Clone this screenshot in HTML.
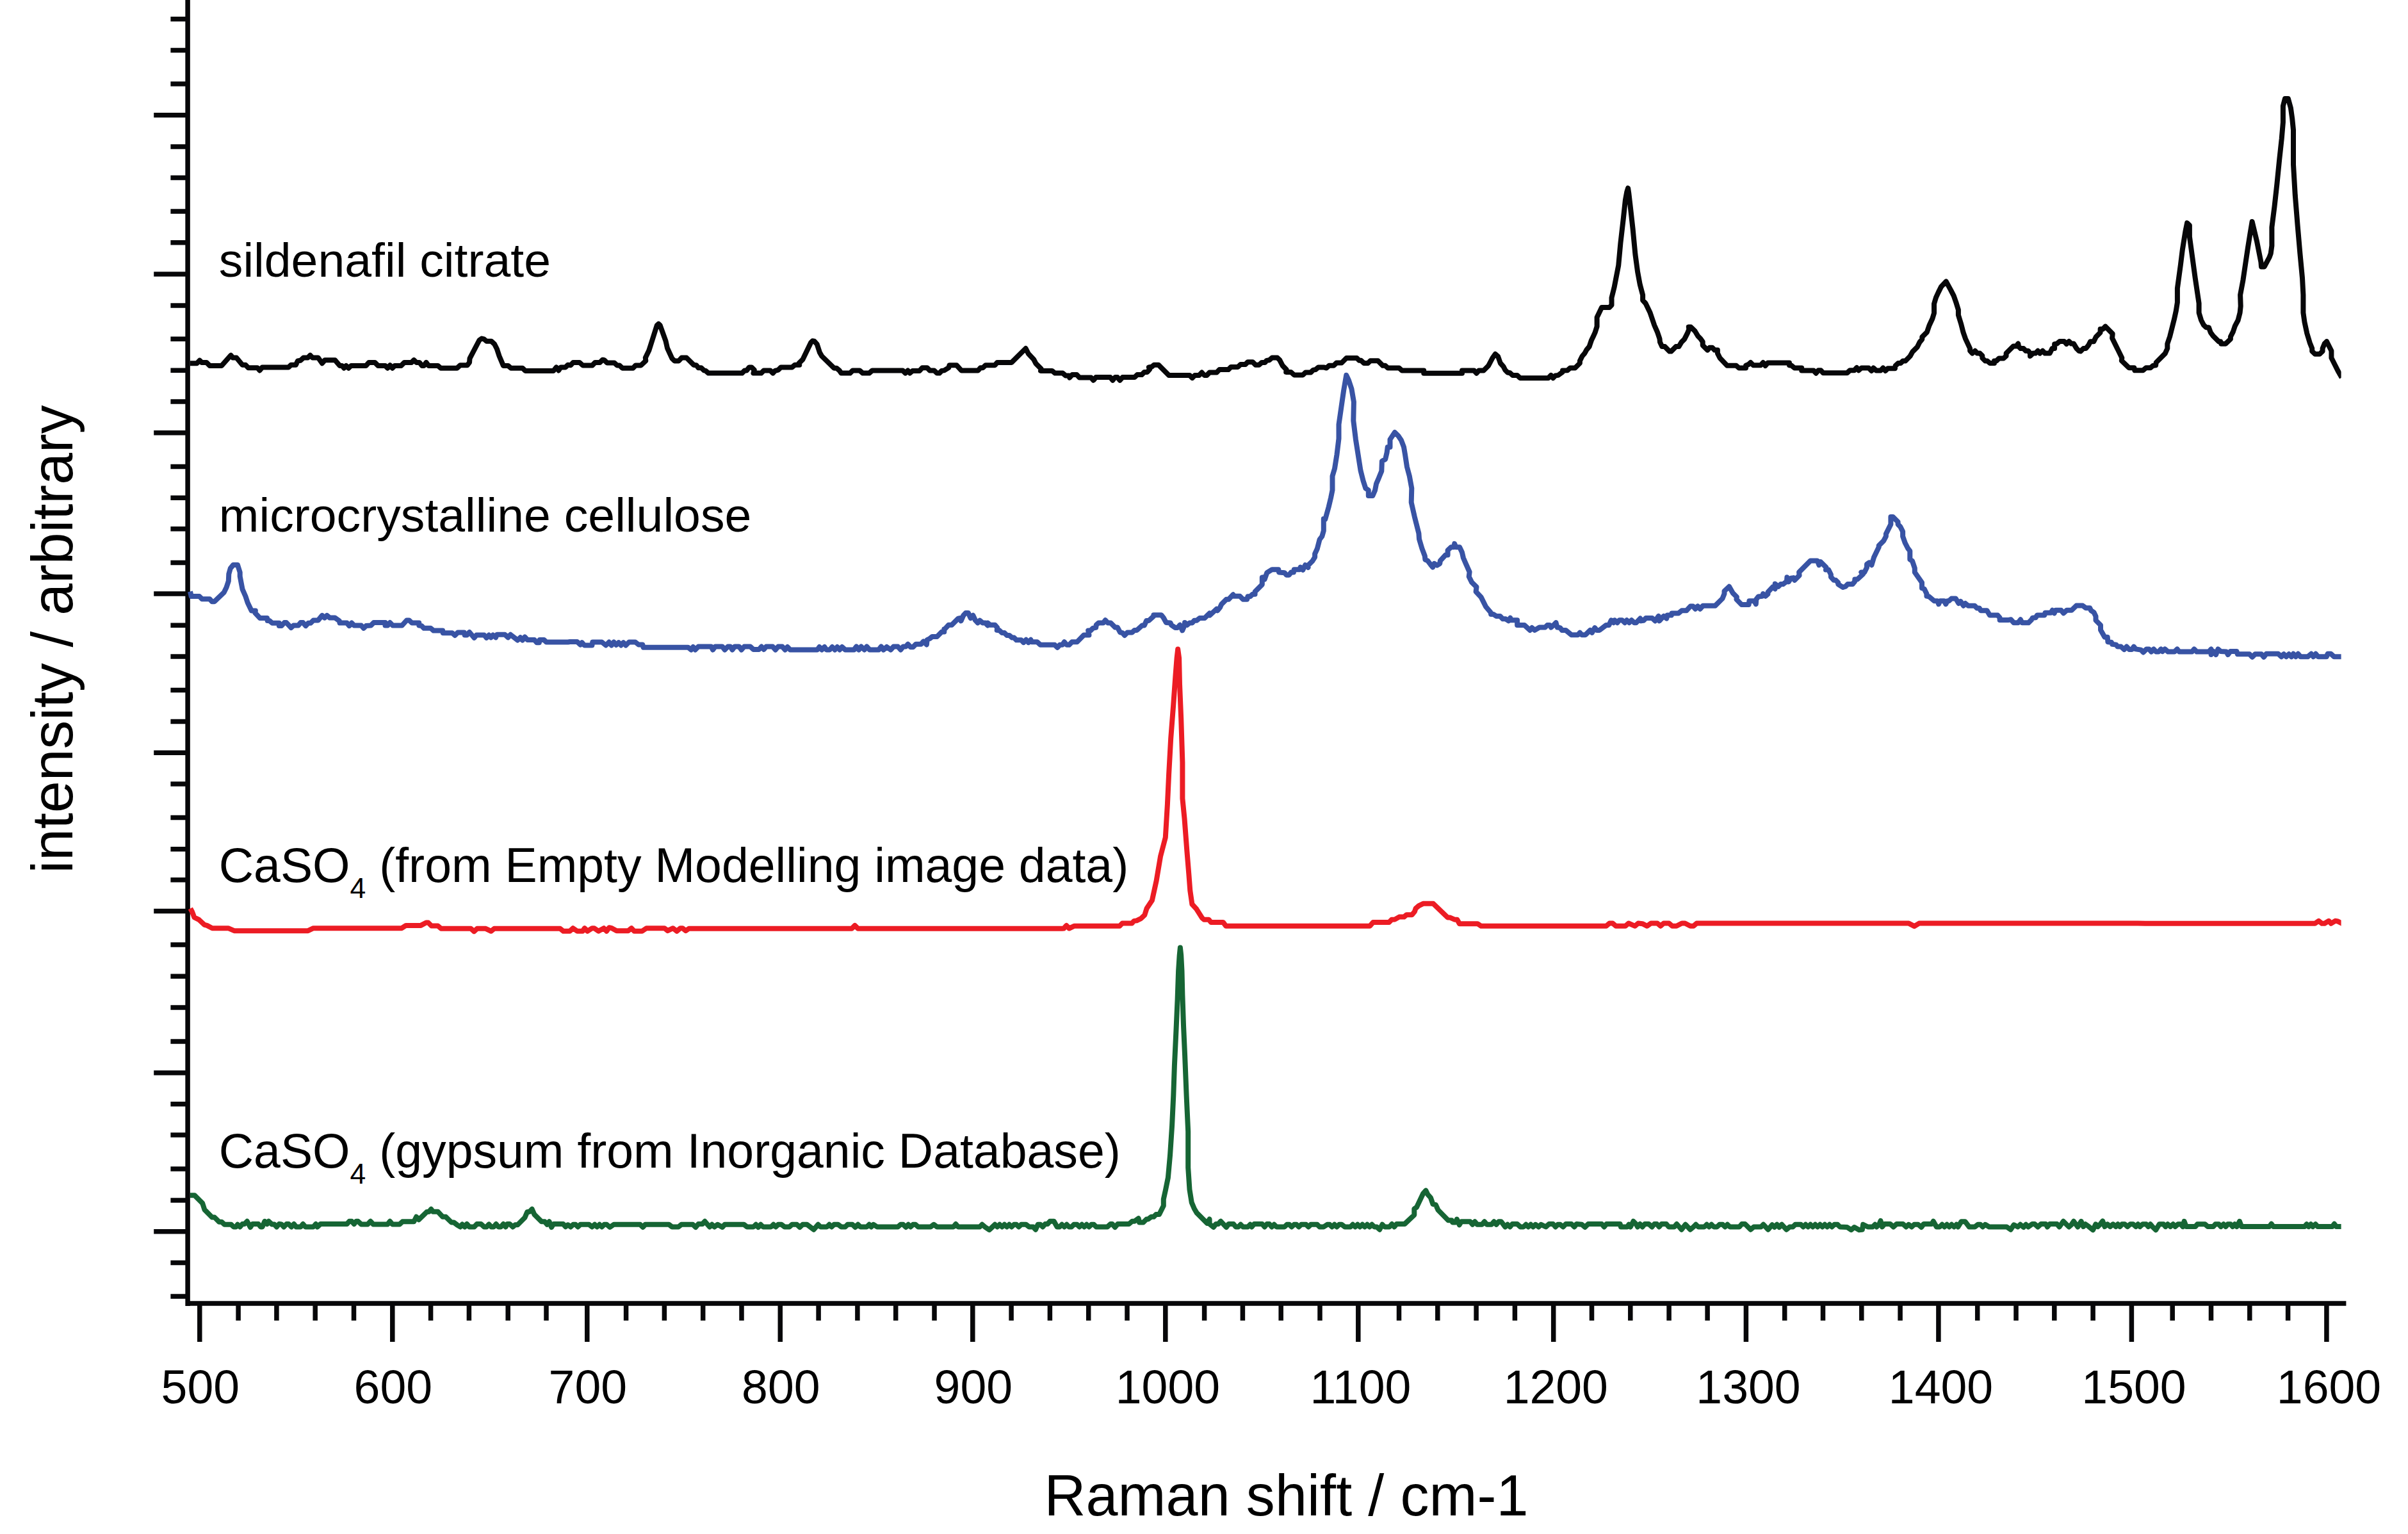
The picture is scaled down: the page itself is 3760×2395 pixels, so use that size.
<!DOCTYPE html>
<html lang="en"><head><meta charset="utf-8"><title>Raman spectra</title>
<style>
html,body{margin:0;padding:0;background:#fff}
body{width:3760px;height:2395px;overflow:hidden}
svg{display:block}
text{font-family:"Liberation Sans",sans-serif;fill:#000}
.tk{font-size:73.4px;text-anchor:middle}
.lb{font-size:75.2px}
.sub{font-size:44.5px}
.ti{font-size:89.9px}
.c{fill:none;stroke-width:8;stroke-linejoin:round;stroke-linecap:butt}
</style></head>
<body>
<svg width="3760" height="2395" viewBox="0 0 3760 2395">
<defs><clipPath id="plot"><rect x="293" y="0" width="3362.6" height="2032"/></clipPath></defs>
<rect width="3760" height="2395" fill="#fff"/>
<path d="M293.1,0V2038.9M289.4,2035.1H3663.4M266.4,29.7H290M266.4,78.5H290M266.4,131H290M240.2,179.8H290M266.4,229.1H290M266.4,277.4H290M266.4,329.9H290M266.4,378.8H290M240.2,428H290M266.4,476.9H290M266.4,529.3H290M266.4,578.2H290M266.4,627H290M240.2,675.7H290M266.4,728.5H290M266.4,777.3H290M266.4,825.7H290M266.4,878.6H290M240.2,927H290M266.4,976.3H290M266.4,1025.1H290M266.4,1077.6H290M266.4,1126.4H290M240.2,1175.2H290M266.4,1224.1H290M266.4,1276.5H290M266.4,1325.8H290M266.4,1373.7H290M240.2,1422.6H290M266.4,1475H290M266.4,1524.3H290M266.4,1573.1H290M266.4,1626.1H290M240.2,1674.9H290M266.4,1723.7H290M266.4,1772.1H290M266.4,1825H290M266.4,1873.9H290M240.2,1922.7H290M266.4,1971.5H290M266.4,2024H290M311.8,2038V2095M372.1,2038V2061.8M431.9,2038V2061.8M492.2,2038V2061.8M552.5,2038V2061.8M612.8,2038V2095M672.6,2038V2061.8M732.4,2038V2061.8M793.2,2038V2061.8M853.0,2038V2061.8M916.8,2038V2095M977.6,2038V2061.8M1037.4,2038V2061.8M1097.7,2038V2061.8M1158.0,2038V2061.8M1218.3,2038V2095M1278.1,2038V2061.8M1338.9,2038V2061.8M1398.7,2038V2061.8M1459.0,2038V2061.8M1518.8,2038V2095M1579.1,2038V2061.8M1639.4,2038V2061.8M1699.7,2038V2061.8M1760.0,2038V2061.8M1819.8,2038V2095M1880.6,2038V2061.8M1940.4,2038V2061.8M2000.2,2038V2061.8M2061.0,2038V2061.8M2120.8,2038V2095M2184.5,2038V2061.8M2244.8,2038V2061.8M2305.1,2038V2061.8M2365.4,2038V2061.8M2425.7,2038V2095M2485.5,2038V2061.8M2545.8,2038V2061.8M2606.1,2038V2061.8M2666.1,2038V2061.8M2726.4,2038V2095M2786.7,2038V2061.8M2846.5,2038V2061.8M2906.8,2038V2061.8M2967.1,2038V2061.8M3026.9,2038V2095M3087.7,2038V2061.8M3148.0,2038V2061.8M3207.8,2038V2061.8M3268.1,2038V2061.8M3328.4,2038V2095M3392.2,2038V2061.8M3452.5,2038V2061.8M3512.8,2038V2061.8M3572.6,2038V2061.8M3632.9,2038V2095" fill="none" stroke="#070709" stroke-width="7.5"/>
<g clip-path="url(#plot)">
<polyline class="c" stroke="#166534" points="297,1866.2 303.7,1866.2 316.2,1878.6 319.4,1888.6 331.1,1900.5 334.9,1900.5 342.3,1907.8 346.1,1907.8 350.5,1911.8 361,1911.8 364.8,1915.5 368.5,1915.5 371,1911.8 374.7,1915.5 378.5,1911 381.7,1911 385.9,1906.8 390.9,1916 394.2,1911 403.4,1911 407.1,1915.5 409.6,1915.5 413.3,1906.8 417.1,1911 419.6,1906.8 424.6,1911.5 428.3,1911.5 432,1915.5 435.8,1911 439.5,1911.5 443.2,1915.5 447.5,1911 450.7,1911 455,1915.5 458.9,1911 462.4,1915.5 469.4,1915.5 473.1,1911 476.9,1915.5 489.3,1915.5 493.1,1911 495.6,1915.5 500.5,1911 541.7,1911 545.4,1906.8 549.1,1906.8 552.9,1911 556.1,1906.8 559.1,1906.8 564.1,1911.5 574.1,1911.5 578.5,1906.8 582.8,1911.5 605.2,1911.5 608.9,1906.8 612.7,1911.5 623.9,1911.5 628.4,1907.3 646.3,1907.3 650.1,1899.8 653.8,1904.3 666.2,1892.3 670,1891.8 673.2,1887.8 676.2,1891.8 683.7,1891.8 691.2,1899.8 696.1,1899.8 704.9,1908.5 708.6,1908.5 713.6,1912.3 718.6,1915.5 721.8,1911.5 725.6,1915.5 729,1911 733,1915.5 740.5,1915.5 744.7,1911 751,1911 756,1915.5 759.7,1915.5 763.4,1911.5 767.2,1915.5 770.9,1915.5 774.6,1911 778.4,1915.5 782.1,1915.5 785.9,1911 789.6,1915.5 792.1,1911 795.8,1911 800.8,1915.5 804.5,1912.3 808.3,1912.3 819.5,1901 823.2,1892.3 827,1891.8 830.7,1887.8 834.4,1896.1 845.7,1907.3 850.6,1907.3 854.4,1911.8 857.6,1907.3 861.1,1916 864.3,1911 879.3,1911 883,1915.2 886.8,1912.3 891.2,1915.5 895,1911.8 898.7,1911.8 902.4,1915.5 906.2,1911.8 919.9,1911.8 924.4,1915.5 928.6,1911.8 932.3,1915.5 936.1,1911.8 939.8,1915.5 943.5,1911.8 947.3,1911.8 952.3,1916 958.5,1911.8 999.6,1911.8 1003.8,1916 1007.6,1911.8 1044.5,1911.8 1049.4,1915.5 1059.4,1915.5 1063.9,1911.8 1081.8,1911.8 1086.3,1916 1090.5,1911 1096.8,1911 1100.5,1906.8 1108,1915.5 1111.7,1911.8 1115.5,1915.5 1120.5,1911.8 1127.9,1916 1131.7,1911.8 1161.6,1911.8 1166.5,1915.5 1176.5,1915.5 1180.3,1911.8 1184,1916 1187.7,1911.8 1191.5,1915.5 1203.9,1915.5 1207.7,1911.8 1211.4,1915.5 1215.1,1911.8 1220.1,1911.8 1225.1,1915.5 1232.6,1915.5 1236.8,1911.8 1244.3,1911.8 1248.8,1916 1253.3,1911.8 1260,1911.8 1270.7,1919.7 1277.4,1911.8 1281.2,1915.5 1291.1,1915.5 1294.9,1911.8 1298.6,1915.5 1302.3,1911.8 1308.6,1911.8 1313.6,1915.5 1319.8,1915.5 1323.5,1911.8 1331,1911.8 1335.5,1916 1339.7,1911.8 1343.5,1915.5 1353.4,1915.5 1357.2,1911.8 1360.4,1915.5 1363.9,1911.8 1369.6,1915.5 1402,1915.5 1406.3,1911.8 1410.2,1911.8 1414.5,1916 1418.2,1911.8 1421.9,1915.5 1425.7,1911.8 1429.4,1911.8 1433.7,1915.5 1453.1,1915.5 1458.1,1911.8 1463.1,1915.5 1476.8,1915.5 1488.7,1915.5 1492.4,1911 1496.2,1915.5 1529.8,1915.5 1533.5,1911.8 1538.5,1916 1544.8,1920.2 1549.7,1915.5 1553.5,1911.8 1557.2,1915.5 1560.9,1911.8 1564.7,1915.5 1568.4,1911.8 1572.2,1915.5 1575.9,1911.8 1579.6,1915.5 1583.4,1911.8 1587.1,1911.8 1590.8,1915.5 1594.6,1911.8 1602.1,1911.8 1607,1915.5 1613.3,1915.5 1617,1919.7 1620.7,1911.8 1624.5,1911.8 1628.2,1915.5 1632,1911 1635.7,1911 1639.4,1906.8 1645.7,1906.8 1650.6,1915.5 1654.4,1915.5 1658.1,1911.8 1661.9,1915.5 1665.6,1911.8 1669.3,1915.5 1673.1,1915.5 1676.8,1911.8 1681.8,1911.8 1685.5,1915.5 1689.3,1911.8 1693,1915.5 1696.7,1911.8 1700.5,1915.5 1704.2,1911.8 1708,1911.8 1711.7,1915.5 1729.1,1915.5 1734.1,1911 1736.6,1911 1741.1,1916 1745.3,1911 1762.8,1911 1767.8,1906.8 1771.5,1906.8 1777.7,1902.3 1779,1908.5 1785.2,1908.5 1790.2,1903.5 1792.7,1903.5 1797.7,1899.8 1801.4,1899.8 1805.1,1896.1 1810.1,1896.1 1816.8,1882.4 1816.8,1872.4 1820.1,1857.4 1823.9,1838.6 1827,1804.2 1830.1,1757.3 1832.3,1710.3 1833.9,1663.4 1836.4,1610.2 1838.6,1560.1 1840.1,1516.3 1841.7,1491.3 1842.9,1479.4 1844.2,1491.3 1845.5,1516.3 1846.4,1553.9 1848,1600.8 1850.1,1647.7 1852.6,1710.3 1855.2,1766.7 1855.2,1823 1857.5,1857.4 1860.7,1877.4 1864.9,1887.3 1868.7,1893.6 1884.9,1909.8 1888.6,1903.5 1888.6,1911 1894.8,1916 1898.6,1911 1902.3,1911 1906.1,1906.8 1914.8,1916 1918.5,1911 1926,1911 1929.7,1915.5 1933.5,1915.5 1937.2,1911.8 1940.9,1915.5 1948.4,1915.5 1952.1,1911.8 1954.6,1915.5 1958.4,1911 1970.8,1911 1974.6,1915.5 1978.3,1911 1982,1911 1985.8,1915.5 1989.5,1911.8 1993.3,1915.5 2005.7,1915.5 2009.5,1911.8 2013.2,1911.8 2016.9,1915.5 2020.7,1911.8 2024.4,1911.8 2028.1,1915.5 2031.9,1911.8 2039.4,1911.8 2043.1,1915.5 2046.8,1911.8 2056.8,1911.8 2060.5,1915.5 2066.8,1915.5 2072.5,1911.8 2076.2,1911.8 2079.9,1915.5 2083.7,1911.8 2087.4,1915.5 2091.1,1911.8 2094.9,1911.8 2099.9,1915.5 2108.6,1915.5 2112.3,1911.8 2116.1,1915.5 2119.8,1911.8 2123.5,1915.5 2127.3,1911.8 2131,1915.5 2134.8,1911.8 2138.5,1915.5 2142.2,1911.8 2146,1915.5 2149.7,1915.5 2154.2,1919.7 2158.4,1911.8 2162.2,1915.5 2169.6,1915.5 2173.4,1911 2177.1,1915.5 2180.8,1911 2193.3,1911 2208.3,1896.8 2208.3,1887.3 2212,1884.9 2222,1863.7 2226.4,1858.7 2229.4,1864.9 2233.9,1869.9 2237.4,1879.9 2241.9,1881.1 2245.6,1889.3 2261.3,1905.3 2266.8,1905.3 2268.1,1908.5 2273,1908.5 2274.8,1903.5 2278.8,1912.3 2281.8,1907.3 2295.5,1907.3 2299.2,1911.8 2302.9,1907.3 2306.7,1911.8 2314.2,1911.8 2317.9,1907.3 2321.6,1911.8 2329.1,1911.8 2332.8,1907.3 2336.6,1911.8 2340.3,1907.3 2344.1,1907.3 2350.3,1915.5 2354,1911.8 2357.8,1915.5 2361.5,1911 2369,1911 2374,1915.5 2378.9,1915.5 2382.7,1911.8 2386.4,1915.5 2390.2,1911.8 2393.9,1915.5 2397.6,1911.8 2402.6,1915.5 2406.3,1911.8 2413.8,1915.5 2418.8,1911 2425,1911 2428.8,1915.5 2432.5,1911.8 2436.2,1911.8 2440.7,1915.5 2445,1911 2453.7,1911 2458.2,1915.5 2461.7,1911 2469.9,1911.8 2474.9,1916 2479.9,1911 2501,1911 2504.8,1915.5 2508.5,1911 2529.7,1911 2530.9,1915.5 2540.9,1915.5 2543.4,1911.8 2545.9,1915.5 2550.4,1906.8 2554.6,1911 2557.1,1915.5 2560.8,1911 2564.6,1915.5 2568.3,1911 2574.5,1911 2579.5,1915.5 2583.3,1911 2587,1911 2590.7,1915.5 2594.5,1911 2601.9,1911 2605.7,1915.5 2614.4,1915.5 2618.1,1911 2625.6,1919.7 2631.8,1911.8 2639.3,1919.7 2644.3,1915.5 2648,1911.8 2651.8,1915.5 2656.8,1915.5 2657.5,1915.5 2661.2,1915.5 2665,1911.8 2668.7,1915.5 2672.4,1911.8 2676.2,1915.5 2681.1,1915.5 2684.9,1911.8 2689.9,1911.8 2693.6,1915.5 2697.3,1911.8 2701.1,1915.5 2716,1915.5 2719.8,1911 2724.8,1911 2733.5,1919.7 2738.5,1915.5 2749.7,1915.5 2753.4,1911.8 2760.9,1919.7 2767.1,1912.3 2770.8,1916 2774.6,1911.8 2778.3,1916 2782.1,1911.8 2789.5,1919.7 2794.5,1915.5 2799.5,1915.5 2803.2,1911.8 2812,1911.8 2815.7,1915.5 2819.4,1911.8 2823.2,1915.5 2826.9,1911.8 2830.6,1915.5 2834.4,1911.8 2838.1,1915.5 2841.9,1911.8 2845.6,1915.5 2849.3,1911.8 2853.1,1915.5 2856.8,1911.8 2860.5,1915.5 2864.3,1911.8 2869.3,1911.8 2873,1915.5 2884.2,1916 2890.5,1920.2 2895.4,1916 2902.9,1920.2 2907.9,1919.7 2909.1,1911.8 2916.6,1915.5 2924.1,1915.5 2927.8,1911.8 2930.3,1915.5 2934.1,1911.8 2936.5,1906 2939,1915.5 2942.8,1911 2951.5,1911 2956.5,1915.5 2961.5,1911 2971.4,1911 2976.4,1915.5 2980.2,1911.8 2985.1,1915.5 2988.9,1911.8 2995.1,1911.8 3000.1,1916 3003.8,1911 3016.3,1911 3018.8,1906.8 3023.8,1915.5 3028.7,1915.5 3032.5,1911.8 3036.2,1915.5 3040,1911.8 3043.7,1915.5 3047.4,1911.8 3051.2,1915.5 3054.9,1911.8 3057.4,1915.5 3062.4,1907.3 3068.6,1907.3 3074.8,1915.5 3083.6,1915.5 3088.5,1911.8 3092.3,1911.8 3096,1915.5 3099.8,1911.8 3106,1915.5 3133.4,1915.5 3139.6,1919.7 3144.6,1912.3 3150.8,1915.5 3154.6,1911.8 3159.6,1916 3163.3,1911.8 3167,1915.5 3173.3,1911 3177,1911 3182,1915.5 3187,1911 3194.4,1911 3196.9,1915.5 3200.7,1911 3211.9,1911 3215.6,1915.5 3221.8,1906.8 3230.6,1915.5 3234.3,1912.3 3238,1906.8 3244.3,1915.5 3249.7,1906.9 3253,1915.1 3256.2,1911.3 3261.6,1915.1 3268.1,1920.3 3272.4,1911.3 3275.6,1915.1 3279.9,1910.8 3283.2,1906.5 3286.4,1915.1 3290.7,1911.3 3295.1,1915.1 3299.4,1911.3 3303.7,1915.1 3306.9,1911.3 3310.2,1915.1 3313.4,1911.3 3317.7,1911.3 3322.1,1915.1 3326.4,1911.3 3330.7,1911.3 3335,1915.1 3338.3,1911.3 3341.5,1915.1 3345.8,1911.3 3351.2,1911.3 3354.5,1915.1 3357.7,1911.3 3360.9,1915.1 3366.3,1920.3 3371.7,1911.3 3378.2,1911.3 3381.4,1915.1 3384.7,1911.3 3389,1915.1 3393.3,1911.3 3396.6,1915.1 3400.9,1911.3 3405.2,1911.3 3408.4,1915.1 3410.6,1906.9 3413.8,1915.1 3427.9,1915.1 3431.1,1911.3 3443,1911.3 3447.3,1915.1 3455.9,1915.1 3459.2,1911.3 3464.6,1911.3 3467.8,1915.1 3472.1,1911.3 3475.4,1915.1 3478.6,1911.3 3482.9,1911.3 3486.2,1915.1 3489.4,1911.3 3492.7,1915.1 3497,1906.9 3500.2,1915.1 3543.4,1915.1 3546.6,1910.8 3549.9,1915.1 3598.5,1915.1 3601.7,1911.3 3604.9,1915.1 3608.2,1911.3 3611.4,1915.1 3615.7,1911.3 3619,1915.1 3641.7,1915.1 3644.9,1910.8 3648.1,1915.1 3658.9,1915.1"/>
<polyline class="c" stroke="#ec1c24" points="297.3,1418.3 300,1423.3 303.3,1432.2 310.6,1435.9 319.2,1443.9 323.2,1444.9 331.5,1449.2 356.4,1449.2 365.7,1453.2 481,1453.2 489.3,1449.2 627.2,1449.2 633.9,1444.9 657.1,1444.9 665.4,1440.5 668.7,1440.5 673.7,1445.5 683.7,1445.5 688.7,1449.8 735.2,1449.8 740.2,1454.2 745.1,1449.8 758.4,1449.8 766.7,1453.8 771.7,1449.8 874.7,1449.8 879.7,1453.8 889.7,1453.8 894.7,1449.2 901.3,1453.8 909.6,1453.8 912.9,1449.2 917.2,1453.8 924.6,1449.2 927.9,1449.2 934.5,1453.8 942.8,1449.2 947.1,1453.8 951.1,1448.2 955.4,1449.2 962.8,1453.2 981,1453.2 986,1449.2 990.3,1453.8 1002.6,1453.8 1009.3,1449.2 1037.5,1449.2 1042.5,1453.2 1050.8,1449.2 1056.8,1453.8 1062.4,1449.2 1065.7,1449.2 1070.7,1453.2 1075.7,1449.8 1085.7,1449.8 1329.8,1449.8 1334.8,1444.9 1339.8,1449.8 1658.1,1449.8 1661.1,1449.5 1665.2,1444.9 1669.4,1449.5 1677.7,1445.7 1748.3,1445.7 1752.4,1441.5 1767.4,1441.5 1770.7,1437.9 1774.9,1437.4 1781.5,1434.1 1787.3,1428.6 1790.6,1418.3 1798.9,1405.8 1805.7,1374.9 1812,1337.3 1819.8,1307.6 1822.9,1256 1825.1,1209 1828.2,1152.7 1832.3,1099.5 1835.4,1055.7 1837.6,1027.5 1839.2,1013.5 1841.1,1027.5 1842,1068.2 1844.2,1121.4 1846.4,1190.3 1846.4,1246.6 1849.5,1277.9 1853.3,1327.9 1856.4,1365.5 1858.3,1390.5 1861.4,1411.8 1868.3,1419.3 1877,1433.2 1880,1435.7 1887.5,1435.7 1890.8,1439.9 1909.9,1439.9 1914.1,1445.7 2139.1,1445.7 2144.1,1439.9 2169,1439.9 2173.2,1435.7 2178.2,1435.4 2184.8,1431.6 2192.3,1431.6 2196.4,1428.2 2204.8,1428.2 2208.9,1423.3 2210.6,1418.3 2215.5,1414.1 2222.2,1410.8 2238,1410.8 2260.4,1432.4 2263.7,1432.4 2271.2,1435.7 2275.3,1435.7 2278.9,1442.2 2307.1,1442.2 2312.8,1445.8 2508.1,1445.8 2513.1,1441.5 2518.1,1441.5 2523.1,1445.8 2538,1445.8 2543,1441.5 2553,1445.8 2558,1441.5 2564.6,1442.2 2571.9,1445.8 2577.9,1441.5 2587.9,1441.5 2592.9,1445.8 2597.8,1441.5 2606.1,1441.5 2611.1,1445.8 2617.8,1445.8 2626.1,1441.5 2631.1,1441.5 2639.4,1445.8 2644.4,1445.8 2649.3,1441.5 2745.7,1441.5 2745,1441.6 2980.5,1441.6 2989.2,1446.1 2996.6,1441.6 3338,1441.6 3349.8,1441.8 3614.8,1441.8 3620.6,1437.8 3625.6,1441.8 3629.7,1441.8 3636.4,1437.8 3639.7,1441.8 3646.3,1437.8 3649.7,1438.2 3658,1442.3"/>
<polyline class="c" stroke="#3853a4" points="297,923.5 298.7,931 311.2,931 315.4,935.2 327.4,935.2 331.1,939.2 334.9,939.2 349.8,924.8 353.5,917.3 356.8,907.3 357.3,896.1 359.8,887.4 364.3,881.9 371,881.9 374.7,893.6 374.7,899.8 378.5,919.8 383.4,931 386.7,940.9 392.7,953.4 398.9,953.4 398.4,957.1 405.9,965.1 417.1,965.1 417.6,969.1 420.8,969.1 425.1,972.8 435.8,972.8 435.8,977.1 439.5,977.1 444,972.1 447,972.1 454.5,980.1 458.2,976.6 465.7,976.6 469.4,972.1 473.1,972.1 477.4,977.1 481.4,972.8 485.1,972.8 489.3,968.4 496.8,968.4 503,960.9 506.8,964.6 510.5,960.9 515,964.6 523,964.6 530,969.6 530.5,972.6 541.7,972.6 545.4,977.1 549.1,972.6 552.9,976.6 564.1,976.6 567.8,980.8 571.6,977.1 579,976.6 583.5,972.1 601.5,972.1 601.5,976.6 605.2,976.6 608.9,972.1 613.2,976.6 627.6,976.6 635.1,968.4 638.8,968.4 643.3,972.6 654.3,972.6 654.3,976.6 658.3,977.1 662,980.8 672.5,980.8 677,984.6 691.2,984.6 691.7,988.3 706.1,988.3 710.4,992 714.8,987.5 724.8,987.5 725.6,991.5 729,991.5 733,987 736.8,991.5 740.5,995.8 744,991.5 756,991.5 759.7,995.8 763.4,991.5 766.7,995.3 769.7,991.5 774.1,995.3 775.9,990.8 788.3,990.8 793.3,995.3 797.1,990.8 808.3,999.5 812.5,995.3 815.8,999.5 819.5,994.5 823.7,999 834.4,999 838.2,1003.2 841.9,1003.2 842.7,999 849.4,999 853.1,1002.5 886.8,1002.5 890,1002 901.2,1002 906.2,1006.5 908.7,1003.2 912.4,1007.5 924.4,1007.5 925.3,1002.5 939.8,1002.5 946,1007.5 951,1002.5 954.8,1007.5 958.5,1002.5 962.2,1007 966,1003.2 969.7,1007.5 973.4,1003.2 977.2,1007.5 982.2,1002.5 992.1,1002.5 997.1,1006.5 1003.3,1006.5 1004.6,1010.7 1074.4,1010.7 1079.3,1014.5 1082.3,1010 1085.6,1014.5 1090.5,1009.5 1110.5,1009.5 1113,1014.5 1116.7,1009.5 1127.9,1009.5 1131.7,1014.5 1136.6,1009.5 1140.4,1009.5 1143.4,1014.5 1147.1,1009.5 1154.1,1009.5 1157.8,1014.5 1162.1,1009.5 1171.5,1009.5 1176.5,1014 1185.2,1014 1189,1009.5 1192.7,1014 1196.4,1009.5 1206.4,1009.5 1210.9,1014.5 1215.1,1009.5 1221.4,1009.5 1225.9,1014.5 1229.6,1010 1233.8,1014.5 1276.2,1014.5 1279.4,1010 1283.2,1014.5 1287.4,1010 1290.6,1014.5 1295.6,1014.5 1299.4,1010 1303.6,1014.5 1307.3,1010 1311.1,1014.5 1314.8,1010 1319.8,1014.5 1333.5,1014.5 1337.2,1009.5 1341,1014.5 1344.7,1009.5 1349.7,1014.5 1353.4,1009.5 1357.9,1014.5 1372.1,1014.5 1375.9,1009.5 1379.6,1014.5 1384.6,1010 1390.8,1014.5 1395.3,1009.5 1402,1009.5 1406.3,1014.5 1410.2,1009.5 1414.5,1009.5 1417.7,1005.7 1421.9,1010.2 1425.7,1010.2 1430.2,1005.7 1438.1,1005.7 1441.9,1001.5 1446.9,1006.5 1447.6,999 1451.8,997 1455.6,994 1463.1,994 1470.5,986.5 1474.3,986.5 1474.3,982.1 1475.5,981.9 1481.2,975.7 1486.2,975.7 1496.2,965.7 1499.9,965 1500.6,969.4 1504.4,960.7 1507.9,957 1511.9,957 1515.6,965 1519.3,960.7 1522.8,968.2 1526.8,972.4 1529.8,968.7 1534.3,972.4 1538.5,972.4 1542.3,976.4 1542.3,972.4 1546,975.7 1553.5,975.7 1557.2,979.9 1556.7,983.9 1560.2,983.9 1564.7,988.1 1568.4,988.1 1572.2,991.9 1575.9,991.9 1580.4,995.6 1583.4,995.6 1587.1,999.3 1594.6,999.3 1598.3,1003.1 1602.1,998.8 1605.8,1003.1 1609.5,998.8 1610.8,1002.3 1619.5,1002.3 1624.5,1006.8 1646.9,1006.8 1651.1,1011 1654.9,1006.8 1658.9,1006.8 1661.9,1002.3 1665.6,1006.8 1669.3,1006.8 1673.8,1002.3 1681.8,1002.3 1692.5,991.4 1700.5,991.4 1699.2,984.4 1703,984.4 1706.7,980.6 1711.2,979.9 1711.7,975.7 1715.4,972.4 1722.9,972.4 1725.9,968.2 1729.9,972.4 1734.1,972.4 1741.1,979.4 1744.8,979.4 1749.1,987.4 1752.8,988.1 1756,991.9 1760.3,987.4 1767.8,987.4 1771.5,983.9 1775.2,983.9 1783.5,976.4 1786.9,976.4 1790.2,968.9 1793.9,968.9 1801.4,962 1801.4,960.2 1813.4,960.2 1816.8,964.5 1820.8,971.9 1827.6,972.4 1828.8,975.7 1835,979.9 1838.8,979.9 1842.5,975.7 1846.2,984.4 1850,975.7 1850,971.9 1853.7,975.7 1857.5,972.4 1861.7,972.4 1864.9,968.7 1868.7,968.7 1873.2,965 1881.1,965 1884.9,961.2 1888.6,957.5 1889.1,960.7 1899.8,950.7 1901.1,953.2 1904.8,948.8 1907.3,943.3 1914.8,935.8 1918.5,935.8 1925.5,928.3 1926.5,930.8 1936,930.8 1940.9,935.8 1947.2,935.8 1948.4,931.3 1952.1,931.3 1955.9,927.8 1959.6,927.8 1959.6,923.8 1970.8,912.6 1970.8,901.4 1974.6,900.9 1974.6,904.7 1978.3,894.2 1986.3,889.2 1996.3,889.2 1997,893.4 2005.7,894.2 2008.7,897.7 2012.7,897.7 2016.2,893.4 2019.9,893.4 2020.7,889.2 2029.4,889.2 2030.6,885.5 2034.4,889.7 2038.1,882.2 2042.6,886 2043.1,882.2 2049.3,876 2053.1,869.8 2053.1,864.8 2056.8,856.8 2060.5,842.4 2064.3,837.4 2066.8,828.7 2066.8,810 2069.3,810.8 2074.6,791.7 2078.1,777.1 2080.5,765.3 2080.5,743.3 2084,731.6 2087.5,709.6 2090.5,684.7 2090.5,662.7 2094.3,636.3 2098.1,609.9 2102.2,585.8 2106,593.7 2110.4,606.9 2113.9,627.5 2113.3,656.8 2116.9,686.1 2124.5,734.5 2128.6,750.7 2132.4,762.4 2136.8,765.3 2136.8,774.1 2143.3,774.1 2147.1,765.3 2149.1,755.1 2152.9,746.3 2157.3,735.4 2157.9,719.9 2163.2,716.9 2165.6,706.7 2166.7,697.9 2170.5,697.9 2170.5,686.1 2177.9,675 2183.2,680.3 2188.1,687.6 2192,697.9 2194,709.6 2196.9,728.7 2200.8,743.3 2204.3,762.4 2203.7,784.4 2208.7,806.4 2215.4,832.8 2216,841.6 2220.4,856.3 2224.8,868 2225.4,873.9 2229.2,875.4 2233.6,881.2 2237.1,885.6 2239.5,879.8 2243.9,882.7 2248.3,879.8 2248.9,875.4 2257.1,866.6 2260.6,866.6 2260.6,859.2 2265.9,854.2 2270.3,854.2 2271.2,848.9 2273.2,854.2 2279.1,854.2 2282.9,862.2 2284.9,871 2289.3,881.2 2294.6,893 2293.7,900.3 2298.1,909.1 2305.5,916.4 2304.6,923.8 2312.8,932.6 2320.1,947.2 2327.5,956 2328.1,959 2331.9,959 2336.3,961.9 2342.2,961.9 2346.6,966.3 2351,966.3 2355.4,969.2 2358.3,964.8 2359.2,968.3 2369.1,968.3 2369.1,976 2380.3,976 2389.1,983.9 2392,980.1 2396.4,983.9 2403.8,979.5 2412.6,979.5 2416.1,976 2419.9,976 2421.9,979.5 2425.8,976 2429.6,972.2 2431.6,979.5 2436,980.1 2439,983.9 2444.8,983.9 2453.6,991.2 2463.9,991.2 2466.8,987.7 2469.8,991.2 2475.6,991.2 2483,983.9 2485.9,987.7 2490.3,980.1 2493.2,983.9 2497.6,983.9 2507.9,976 2512.3,976 2515.8,968.3 2519.6,972.2 2521.1,968.3 2525.5,972.2 2528.4,968.3 2532.8,968.3 2537.2,972.2 2540.2,968.3 2544,972.2 2547.5,968.3 2551.9,972.2 2554.8,972.2 2561.2,965.6 2562.4,969.4 2566.2,968.9 2569.9,965.1 2579.9,965.1 2584.4,969.4 2589.8,961.9 2591.1,969.4 2597.8,961.9 2602.3,965.6 2603.5,960.6 2609.8,960.6 2610.5,957.4 2621,957.4 2626,953.2 2633.4,953.2 2639.7,946.4 2643.4,946.4 2647.1,950.7 2650.9,946.4 2654.6,950.7 2659.1,945.7 2678.3,945.7 2689.5,934.5 2692.5,927 2692.5,922.8 2700,915.8 2705.7,925.8 2711.9,932 2711.4,935.7 2719.4,944 2730.6,944 2731.4,938.2 2739.3,938.2 2741.8,943.2 2742.3,935.7 2745.6,931.5 2751.8,930.7 2753,927 2756.8,930.7 2760.5,927.5 2760.5,924.5 2768,916.5 2771.7,919.5 2771.7,911.6 2776.7,915.8 2780.5,912.1 2784.2,912.1 2789.9,907.6 2790.4,901.3 2792.9,908.3 2796.6,902.6 2800.4,902.1 2802.1,905.8 2809.6,898.4 2809.1,893.4 2827,875.4 2837.8,875.4 2840.3,882.2 2842.7,877.2 2851.5,885.9 2851,889.6 2855.2,889.6 2858.9,897.1 2858.9,900.8 2863.4,905.8 2866.4,905.8 2870.2,909.6 2870.2,912.1 2877.6,917 2881.4,915.8 2885.1,912.1 2892.6,912.1 2896.3,907.6 2896.3,904.6 2900.1,904.6 2908.8,896.6 2906.3,893.4 2911.3,893.4 2915,885.9 2915,880.9 2918.7,878.4 2922.5,882.2 2926.2,869.7 2933.7,854.3 2933.7,851.8 2941.2,844.3 2944.9,837.3 2944.9,833.6 2952.4,818.6 2952.4,806.9 2955.6,806.9 2963.6,814.9 2963.6,818.6 2967.3,822.4 2971.1,829.8 2971.1,837.3 2974.8,847.8 2979,856 2982.3,860.2 2982.3,873.4 2986,875.9 2989.8,887.1 2989.8,893.4 3001,909.6 3001,918.3 3004.7,919.5 3008.4,927 3008.4,930.7 3012.2,931.5 3020.2,938.2 3025.4,938.2 3027.1,943.2 3029.1,938.2 3035.9,938.2 3038.3,943.2 3040.8,938.2 3043.3,938.2 3047.1,934.5 3053.8,934.5 3058.3,942 3061.5,939 3065.8,945.7 3068.7,942 3073.2,945.7 3083.2,945.7 3086.9,949.4 3090.7,949.4 3092.7,953.2 3102.6,953.2 3106.9,960.6 3119.3,960.6 3122.6,964.4 3122.6,968.1 3135.5,968.1 3139.9,967.3 3144.4,972.3 3151.1,972.3 3154.9,967.3 3157.4,972.3 3167.3,972.3 3172.3,967.3 3173.6,964.8 3178.6,964.3 3181,960.5 3192.3,960.5 3193.5,956.8 3202.2,956.8 3204.7,952.8 3207.7,957.3 3209.7,952.8 3218.4,952.8 3222.2,957.3 3227.1,952.8 3234.6,952.8 3242.1,945.6 3252.1,945.6 3257,949.3 3263.3,949.3 3265,953.1 3269.5,956.1 3272.5,962.3 3272.5,968.5 3280,976 3280,983.5 3286.4,994.7 3290.7,994.7 3291.4,1002.2 3296.9,1002.7 3298.2,1005.9 3304.4,1006.6 3306.4,1009.6 3311.9,1009.6 3316.8,1014.1 3320.6,1009.6 3324.8,1014.1 3328.8,1014.1 3331.8,1009.6 3334.8,1013.4 3343,1014.6 3346.7,1018.4 3351.7,1013.4 3355.5,1013.4 3359.2,1017.6 3362.9,1013.4 3366.7,1017.6 3370.4,1017.6 3374.2,1013.4 3376.6,1017.1 3380.4,1013.4 3385.4,1017.6 3395.3,1017.6 3399.6,1013.4 3402.8,1017.6 3422.7,1017.6 3426,1013.4 3430.2,1017.6 3448.9,1017.6 3452.6,1013.4 3452.6,1022.1 3456.4,1017.1 3460.1,1022.1 3463.4,1013.4 3467.6,1017.1 3476.3,1017.6 3478.8,1022.1 3482.5,1017.1 3492.5,1017.1 3493.8,1021.3 3512.4,1021.3 3516.7,1025.8 3521.2,1021.3 3531.1,1021.3 3534.9,1025.8 3538.6,1020.8 3557.3,1020.8 3562.3,1025.3 3566,1021.3 3569.8,1025.3 3574,1021.3 3578,1025.3 3581,1020.8 3584.7,1025.3 3588.4,1020.8 3592.2,1025.3 3603.4,1025.3 3608.9,1020.8 3612.1,1025.3 3615.9,1020.8 3619.6,1025.3 3632.8,1025.3 3634.5,1020.8 3639.5,1020.8 3644.5,1025.3 3658.2,1025.3"/>
<polyline class="c" stroke="#070709" points="297,567.2 307.4,567.2 311.7,562.7 314.9,565.9 322.4,565.9 327.4,570.9 346.1,570.9 360.5,554.7 363.5,558.5 369.2,558.5 378.5,569.7 383.4,569.7 387.7,574.2 402.1,574.2 405.4,578.4 409.6,573.4 450.7,573.4 454.5,569.7 461.9,569.7 464.9,563.4 469.4,562.7 473.9,558.5 480.6,558.5 484.4,554.7 488.1,558.5 496.8,558.5 503,567.2 507.3,562.2 523,562.2 530.5,570.9 534.2,570.9 537.2,574.7 540.4,570.9 544.2,574.7 548.4,570.9 571.6,570.9 576,565.9 585.3,565.9 590.3,570.9 601.5,570.9 605.2,574.7 608.9,570.2 612.7,574.7 616.4,570.9 626.4,570.9 631.4,565.9 642.6,565.9 646.3,562.2 650.1,565.9 655,565.9 658.8,570.9 662,570.9 665.5,565.9 669.2,570.9 683.7,570.9 688.2,574.7 713.6,574.7 718.6,570.2 729.8,570.2 733,565.9 733.5,559.7 748.5,531 752.2,528.6 755.5,529.3 759.7,532.8 767.2,532.8 772.1,537.3 775.9,544.8 779.6,556 785.9,570.9 793.3,570.9 797.8,574.7 815.8,574.7 820.2,578.9 864.3,578.9 868.6,573.4 872.3,578.4 875.6,573.4 883,573.4 886.8,569.7 891.2,570.2 895,565.9 904.9,565.9 909.9,570.4 924.9,570.4 929.3,565.9 936.8,565.9 941,561.7 943.5,562.2 947.8,566.4 959.2,566.4 963.5,570.4 967.2,570.4 971.7,574.7 988.4,574.7 992.6,570.4 1000.8,570.4 1008.3,563.4 1007.8,558.5 1013.3,547.2 1025.8,507.9 1028.3,505.6 1030.7,507.9 1039.5,532.3 1042,543.5 1049.4,559.7 1053.2,563.4 1059.9,563.4 1064.4,558.5 1071.9,558.5 1083.1,569.7 1087.3,570.2 1090.5,574.2 1094.8,574.2 1099.3,578.4 1101.8,578.9 1106.2,582.6 1158.6,582.6 1162.8,578.4 1166,578.4 1169.8,573.4 1173.5,573.4 1177.8,577.6 1176.5,582.6 1188.5,582.6 1192.7,578.4 1202.7,578.4 1206.9,582.6 1210.2,578.9 1215.1,577.6 1219.4,573.4 1236.8,573.4 1241.3,569.7 1248.3,569.7 1247.5,567.2 1253.3,561.4 1266.2,534.8 1268.7,532.3 1271.7,532.8 1275.7,537.3 1279.9,550.2 1283.2,556 1302.3,574.7 1306.1,574.7 1310.6,578.4 1313.6,582.6 1327.3,582.6 1331.5,578.4 1342.2,578.4 1347.2,582.6 1357.2,582.6 1362.1,578.4 1409.5,578.4 1413.7,582.6 1417.5,578.4 1420.7,582.6 1424.9,578.9 1435.7,578.9 1440.1,574.2 1447.6,574.2 1451.8,578.4 1458.6,578.4 1463.1,582.6 1466.8,582.6 1470.5,578.9 1474.3,578.4 1481.2,574.2 1482.5,570.2 1493.7,570.2 1501.1,578.4 1527.3,578.4 1531,574.2 1534.8,574.2 1539,570.2 1553.5,570.2 1557.2,565.9 1579.6,565.9 1601.6,544 1605.8,552.2 1614,560.9 1617.5,567.7 1625.7,575.9 1625,578.9 1642.7,578.9 1647.4,582.6 1659.4,582.6 1663.9,586.4 1669.3,586.4 1670.1,589.6 1674.3,585.1 1681.3,585.1 1685.5,589.6 1703.7,589.6 1707.2,593.8 1711.2,589.1 1733.6,589.1 1737.4,593.8 1741.1,589.1 1744.8,589.1 1748.6,593.8 1752.8,589.1 1771.5,589.1 1775.7,585.1 1782.7,585.1 1786.9,580.9 1791.4,580.9 1795.2,576.6 1793.9,573.4 1798.4,572.7 1801.9,569.7 1808.9,569.7 1825.1,585.9 1857.5,585.9 1861.7,590.1 1865.7,585.9 1872.4,585.9 1876.6,581.6 1880.6,585.9 1884.4,585.9 1888.6,581.6 1899.8,581.6 1904.1,577.1 1918,577.1 1922.2,572.9 1933,572.9 1937.2,568.9 1944.7,568.9 1948.4,565.2 1955.9,565.2 1960.4,569.7 1965.9,569.7 1970.3,565.9 1975.3,565.9 1977.8,562.9 1982,562.2 1986.3,558.5 1994.5,558.5 1998.2,562.2 2002.7,570.9 2008.7,577.1 2008.2,580.9 2015.7,580.9 2020.7,585.4 2034.4,585.4 2038.6,581.4 2046.8,581.4 2050.6,577.6 2054.3,577.1 2058.5,573.4 2066.8,573.4 2071.2,574.5 2075.4,570.8 2082.4,570.8 2086.9,566.5 2094.9,566.5 2102.4,559 2118.6,559 2122.3,562.8 2125.3,562.8 2129.8,567 2136,567 2139.7,563.3 2151.7,563.3 2159.2,570.8 2162.9,570.8 2167.1,574.5 2184.6,574.5 2189.1,578.5 2223.2,578.5 2223.2,582.7 2283,582.7 2283,578.5 2301.7,578.5 2305.4,582.7 2309.2,578.5 2316.6,578.5 2324.1,571 2330.4,559 2334.8,552.8 2339.1,556.5 2342.8,567 2347.8,572.7 2350.3,577.7 2354,581.5 2357.8,582.2 2362,585.9 2369,585.9 2373.5,590.2 2417.6,590.2 2421.8,585.9 2425,590.2 2428.8,586.4 2433,585.9 2440,580.7 2440,578.5 2447.5,578.2 2451.7,574.5 2459.4,574.5 2466.9,567 2466.9,563.5 2470.6,556 2474.4,551.6 2477.4,546.1 2481.6,541.1 2484.8,531.6 2488.1,524.7 2490.6,519.2 2493.6,509.7 2493.6,495.5 2501,480.1 2513,480.1 2516.5,476.3 2516.5,464.9 2520.5,448.9 2527.2,414.5 2530.4,379.6 2534.7,342.3 2537.9,312.4 2540.2,299.9 2542.1,293.7 2543.4,302.4 2545.4,319.8 2547.1,334.8 2549.6,357.2 2553.4,397.1 2557.1,424.5 2560.8,444.4 2565.1,460.6 2565.1,468.8 2569.6,473.8 2576.5,488 2583.3,508 2588.2,519.2 2591.5,529.1 2592,534.1 2595.2,541.1 2599.5,541.1 2606.9,548.6 2609.4,548.6 2616.9,541.1 2621.4,541.1 2625.6,534.1 2630.1,529.6 2634.8,520.4 2637.3,514.2 2636.8,510.5 2640.1,510.5 2646.8,517.2 2651.3,524.7 2655.5,529.1 2658.7,533.6 2658.7,539.1 2666.2,546.6 2669.4,542.8 2673.7,542.8 2677.4,546.6 2681.9,546.6 2681.9,551.6 2685.6,559 2696.8,570.8 2711,570.8 2715.3,574.5 2726,574.5 2726,570.8 2730.2,569 2733.5,566 2737.7,570.3 2749.2,570.3 2752.9,566 2756.6,571 2760.4,566.5 2794,566.5 2794,570.3 2797.5,570.8 2802,574.5 2813.2,574.5 2813.2,578.5 2831.9,578.5 2835.6,582.7 2839.4,578.2 2843.1,578.2 2846.8,582.2 2884.2,582.2 2888.5,578.2 2895.4,578.2 2899.2,574 2902.2,578.2 2906.6,574.5 2917.9,574.5 2922.3,579 2925.3,574.5 2929.6,578.5 2936.5,578.5 2940.3,574.5 2944,579 2947.8,575.2 2959,575.2 2959.7,571 2964,567 2967.7,567 2971.4,563.5 2975.2,563.5 2982.6,556 2986.4,549.1 2993.9,541.6 2997.6,534.1 3001.3,529.6 3001.3,526.1 3008.8,518.7 3012.5,508 3017.5,497.2 3020,488.8 3020,474.3 3023,464.4 3026.7,456.4 3031.2,447.4 3038.7,439.4 3046.2,453.1 3050.7,461.9 3054.2,471.8 3057.9,483.8 3057.9,491.8 3062.4,506.7 3065.6,519.2 3069.1,529.1 3076.1,544.1 3076.1,547.8 3079.8,551.6 3084.1,547.8 3087.3,551.6 3091.5,551.6 3095.3,555.3 3095.3,559 3099.8,563.5 3103,563.5 3107.2,567 3114,567 3114,563.5 3117.2,563.5 3121.4,559.5 3128.4,559.5 3132.6,555.8 3132.6,551.6 3143.9,540.4 3148.3,540.4 3151.3,536.6 3152.1,541.1 3155.1,544.1 3159.6,544.1 3163.3,547.8 3167,547.8 3170,551.6 3170,556 3174.5,551.6 3178.2,551.6 3182,547.8 3185.2,551.6 3189.5,547.8 3193.2,551.6 3200.7,551.6 3204.4,544.1 3208.1,544.1 3208.1,537.1 3211.9,536.6 3216.1,532.9 3223.1,532.9 3226.8,537.1 3230.6,532.9 3234.3,536.6 3238,536.6 3242.5,544.1 3246.3,547.8 3248.8,548.4 3253.2,544 3257,544 3261.1,539 3264.1,533.2 3269.3,533.2 3272.9,525.8 3279.6,519.1 3279.6,513.8 3283.4,513.8 3287.5,509.7 3298.7,521.1 3298.1,527.9 3313.3,558.7 3312.8,563.1 3324.2,574.2 3332.4,574.2 3333.3,578.3 3346.2,578.3 3350.9,574.2 3357.9,574.2 3361.7,571 3366.1,570.4 3366.7,566 3380.8,551.9 3384.3,544 3384.3,536.7 3388.1,525.5 3394.9,498.6 3397.8,485.4 3399.9,472.2 3399.9,450.1 3404.9,413.5 3407.8,390 3412.5,360.7 3415.1,348.1 3418.9,351.9 3418.9,369.5 3423.3,401.7 3427.7,434 3433.6,473.6 3433.6,488.3 3437.1,500 3440.9,507.4 3444.8,511.2 3448.9,511.2 3451.8,519.1 3455.6,524.4 3464.4,533.2 3467.3,533.2 3468.2,536.7 3475.3,536.7 3482.9,529.4 3482.9,525.8 3487,517.6 3489.9,508.8 3494.6,500 3497.6,488.3 3498.7,478 3498.1,460.4 3502.5,436.9 3506.4,410.5 3509.9,387.1 3513.4,365.1 3516.6,346 3524,376.8 3530.4,409.1 3531,416.4 3535.7,416.4 3543.6,401.7 3545.7,395.9 3547.4,383.6 3547.4,354.8 3551.5,322.5 3555.4,287.3 3559.2,249.2 3562.7,216.9 3564.9,191 3564.9,165.5 3567.9,154.1 3572.9,154.1 3576.9,168.5 3579.2,185 3581,203 3581,256.9 3583.8,304.9 3587.6,351.9 3591.4,395.9 3595,434 3596.4,460.4 3596.4,488.3 3598.5,503 3602.3,520.6 3606.7,535.2 3610.2,544 3610.2,548.4 3614.9,552.8 3621.9,552.8 3626.6,548.4 3626.6,544 3629.6,536.7 3633.1,533.2 3640.4,547.8 3640.4,558.7 3650.7,579.2 3656.6,589.5"/>
</g>
<text class="tk" x="312.8" y="2190.5">500</text>
<text class="tk" x="613.8" y="2190.5">600</text>
<text class="tk" x="917.8" y="2190.5">700</text>
<text class="tk" x="1219.3" y="2190.5">800</text>
<text class="tk" x="1519.8" y="2190.5">900</text>
<text class="tk" x="1823.4" y="2190.5">1000</text>
<text class="tk" x="2124.4" y="2190.5">1100</text>
<text class="tk" x="2429.3" y="2190.5">1200</text>
<text class="tk" x="2730.0" y="2190.5">1300</text>
<text class="tk" x="3030.5" y="2190.5">1400</text>
<text class="tk" x="3332.0" y="2190.5">1500</text>
<text class="tk" x="3636.5" y="2190.5">1600</text>
<text class="lb" transform="translate(341.8,432.2) scale(1,0.982)">sildenafil citrate</text>
<text class="lb" transform="translate(341.8,830.1) scale(1,0.982)">microcrystalline cellulose</text>
<text class="lb" x="341.8" y="1377.4">CaSO<tspan class="sub" dy="25">4</tspan><tspan dy="-25"> (from Empty Modelling image data)</tspan></text>
<text class="lb" x="341.8" y="1822.9">CaSO<tspan class="sub" dy="25">4</tspan><tspan dy="-25"> (gypsum from Inorganic Database)</tspan></text>
<text class="ti" x="1630.5" y="2365.6" letter-spacing="0.1">Raman shift / cm-1</text>
<text class="ti" transform="translate(112.9,1363.6) rotate(-90) scale(0.9955,1.02)">intensity / arbitrary</text>
</svg>
</body></html>
